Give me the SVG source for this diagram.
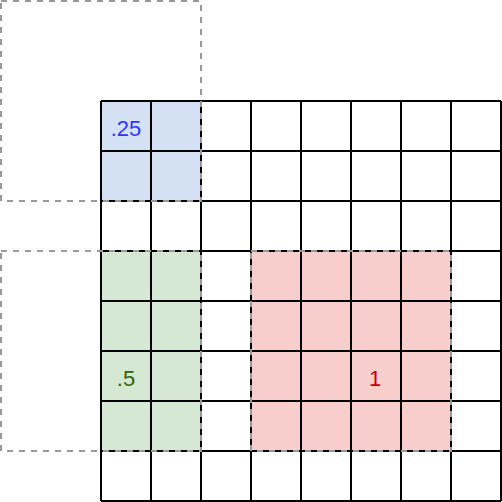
<svg xmlns="http://www.w3.org/2000/svg" width="502" height="502" viewBox="0 0 502 502">
<defs>
<style>
.blue{fill:#d4e1f5}
.green{fill:#d5e8d4}
.red{fill:#f8cecc}
.grid{fill:none;stroke:#000;stroke-width:2}
.dash{fill:none;stroke:#999999;stroke-width:2;stroke-dasharray:6 6}
.lbl{font-family:"Liberation Sans",Arial,sans-serif;font-size:22px;text-anchor:middle}
</style>
</defs>
<rect width="502" height="502" fill="#fff"/>
<g id="fills">
<rect class="blue" x="101" y="101" width="100" height="100"/>
<rect class="green" x="101" y="251" width="100" height="200"/>
<rect class="red" x="251" y="251" width="200" height="200"/>
</g>
<g id="grid" class="grid">
<path d="M101 101V501M151 101V501M201 101V501M251 101V501M301 101V501M351 101V501M401 101V501M451 101V501M501 101V501"/>
<path d="M101 101H501M101 151H501M101 201H501M101 251H501M101 301H501M101 351H501M101 401H501M101 451H501M101 501H501"/>
</g>
<g id="windows">
<rect id="win-blue" class="dash" x="1" y="1" width="200" height="200"/>
<rect id="win-green" class="dash" x="1" y="251" width="200" height="200"/>
<rect id="win-red" class="dash" x="251" y="251" width="200" height="200"/>
</g>
<g id="labels">
<text class="lbl" x="126" y="136" fill="#3333ff">.25</text>
<text class="lbl" x="126" y="386" fill="#336600">.5</text>
<text class="lbl" x="375" y="386" fill="#cc0000">1</text>
</g>
</svg>
